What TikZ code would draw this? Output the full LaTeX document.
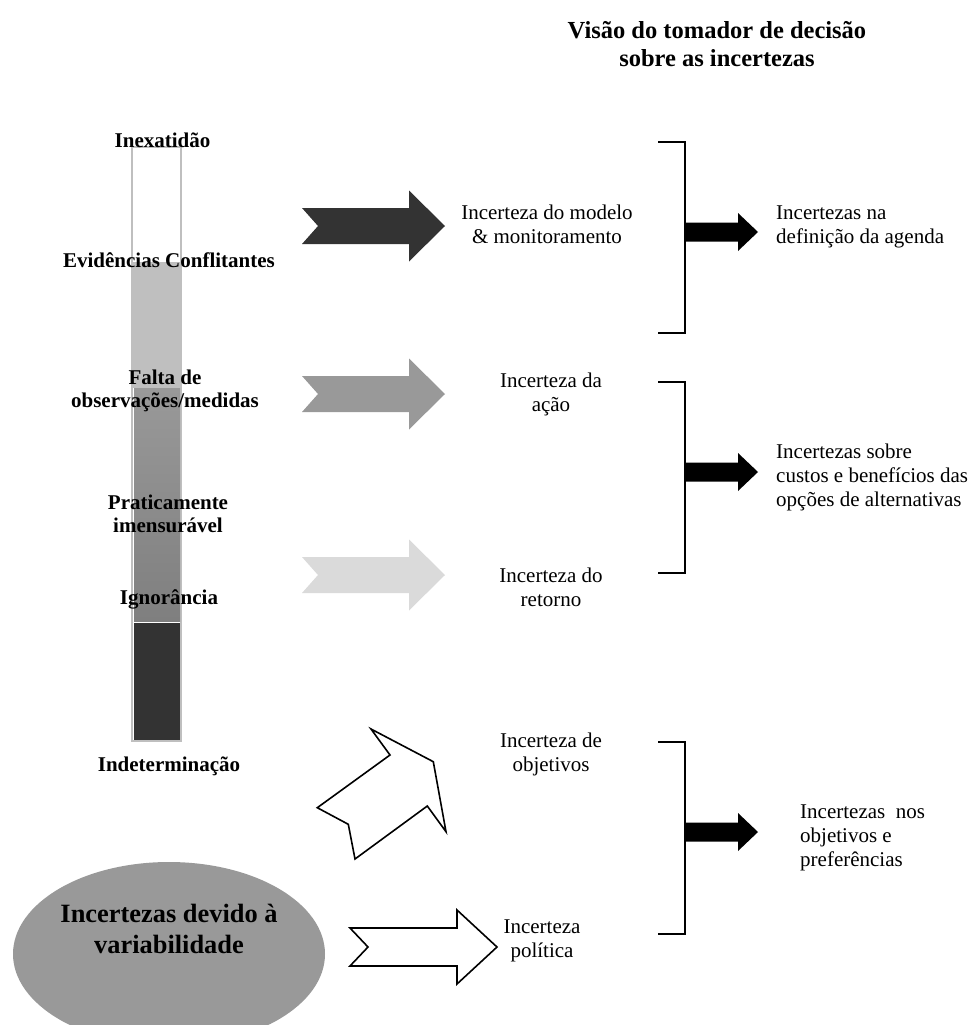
\documentclass[tikz,border=0pt]{standalone}
\usepackage{fontspec}
\setmainfont{Liberation Serif}
\usetikzlibrary{shapes.geometric}
\definecolor{inkdark}{HTML}{333333}
\definecolor{midgray}{HTML}{999999}
\definecolor{lowgray}{HTML}{7F7F7F}
\definecolor{palegray}{HTML}{DADADA}
\definecolor{barline}{HTML}{BFBFBF}

% notched block arrow pointing right: tail x, centre y, style
\newcommand\NotchArrow[3]{%
  \path[#3] (#1,#2) ++(0,-18) -- ++(107,0) -- ++(0,-17.5) -- ++(36,35.5)
    -- ++(-36,35.5) -- ++(0,-17.5) -- ++(-107,0) -- ++(16,-18) -- cycle;}
% solid arrow leaving a bracket: centre y
\newcommand\BracketArrow[1]{%
  \fill (685,#1) ++(0,-9.5) -- ++(53,0) -- ++(0,-9.5) -- ++(20,19)
    -- ++(-20,19) -- ++(0,-9.5) -- ++(-53,0) -- cycle;}
% bracket: top y, bottom y
\newcommand\Bracket[2]{%
  \draw[line width=1.5pt] (658,#1) -- (685,#1) -- (685,#2) -- (658,#2);}

\begin{document}
\begin{tikzpicture}[x=1pt,y=-1pt,
  body/.style={font=\fontsize{21}{24}\selectfont, inner sep=0pt, align=center},
  bodyleft/.style={font=\fontsize{21}{24}\selectfont, inner sep=0pt, align=left, anchor=west},
  barlabel/.style={font=\bfseries\fontsize{21}{23.5}\selectfont, inner sep=0pt, align=center},
  heading/.style={font=\bfseries\fontsize{24.5}{28}\selectfont, inner sep=0pt, align=center},
  outlinearrow/.style={draw=black, line width=1.6pt, fill=white, line join=miter}]
\useasboundingbox (0,0) rectangle (978,1025);

% heading
\node[heading] (head) at (717,44) {Visão do tomador de decisão\\sobre as incertezas};

% graded bar
\draw[barline, line width=2pt, fill=white] (132,147) rectangle (181,741);
\fill[barline] (132,262) rectangle (181,388);
\shade[top color=midgray, bottom color=lowgray] (134,388) rectangle (180,621);
\fill[inkdark] (134,623) rectangle (180,740);

% bar labels
\node[barlabel, anchor=base] (l1) at (162.5,147) {Inexatidão};
\node[barlabel, anchor=base] (l2) at (169,267) {Evidências Conflitantes};
\node[barlabel] (l3) at (165,391) {Falta de\\observações/medidas};
\node[barlabel] (l4) at (168,514) {Praticamente\\imensurável};
\node[barlabel, anchor=base] (l5) at (169,604) {Ignorância};
\node[barlabel, anchor=base] (l6) at (169,771) {Indeterminação};

% block arrows towards the uncertainty types
\NotchArrow{302}{226}{fill=inkdark}
\NotchArrow{302}{394}{fill=midgray}
\NotchArrow{302}{575}{fill=palegray}
\path[outlinearrow] (371,729) -- (433.3,761.7) -- (446,831.7) -- (427.3,806)
  -- (355,859) -- (348.3,824.3) -- (317.3,807.7) -- (390,755) -- cycle;
\path[outlinearrow] (350,928) -- (457,928) -- (457,910) -- (497,947)
  -- (457,984) -- (457,966) -- (350,966) -- (368,947) -- cycle;

% variability
\node[ellipse, fill=midgray, minimum width=312pt, minimum height=184pt, inner sep=0pt]
  (var) at (169,954) {};
\node[font=\bfseries\fontsize{26.4}{31}\selectfont, inner sep=0pt, align=center]
  (vartext) at (169,928.5) {Incertezas devido à\\variabilidade};

% uncertainty types
\node[body] (m1) at (547,224) {Incerteza do modelo\\\& monitoramento};
\node[body] (m2) at (551,394) {Incerteza da\\ação};
\node[body] (m3) at (551,587) {Incerteza do\\retorno};
\node[body] (m4) at (551,754) {Incerteza de\\objetivos};
\node[body] (m5) at (542,941) {Incerteza\\política};

% brackets and their arrows
\Bracket{142}{333}
\Bracket{382}{573}
\Bracket{742}{934}
\BracketArrow{232}
\BracketArrow{472}
\BracketArrow{832}

% decision-maker view
\node[bodyleft] (r1) at (776,227) {Incertezas na\\definição da agenda};
\node[bodyleft] (r2) at (776,477) {Incertezas sobre\\custos e benefícios das\\opções de alternativas};
\node[bodyleft] (r3) at (800,838) {Incertezas\ \ nos\\objetivos e\\preferências};
\end{tikzpicture}
\end{document}
